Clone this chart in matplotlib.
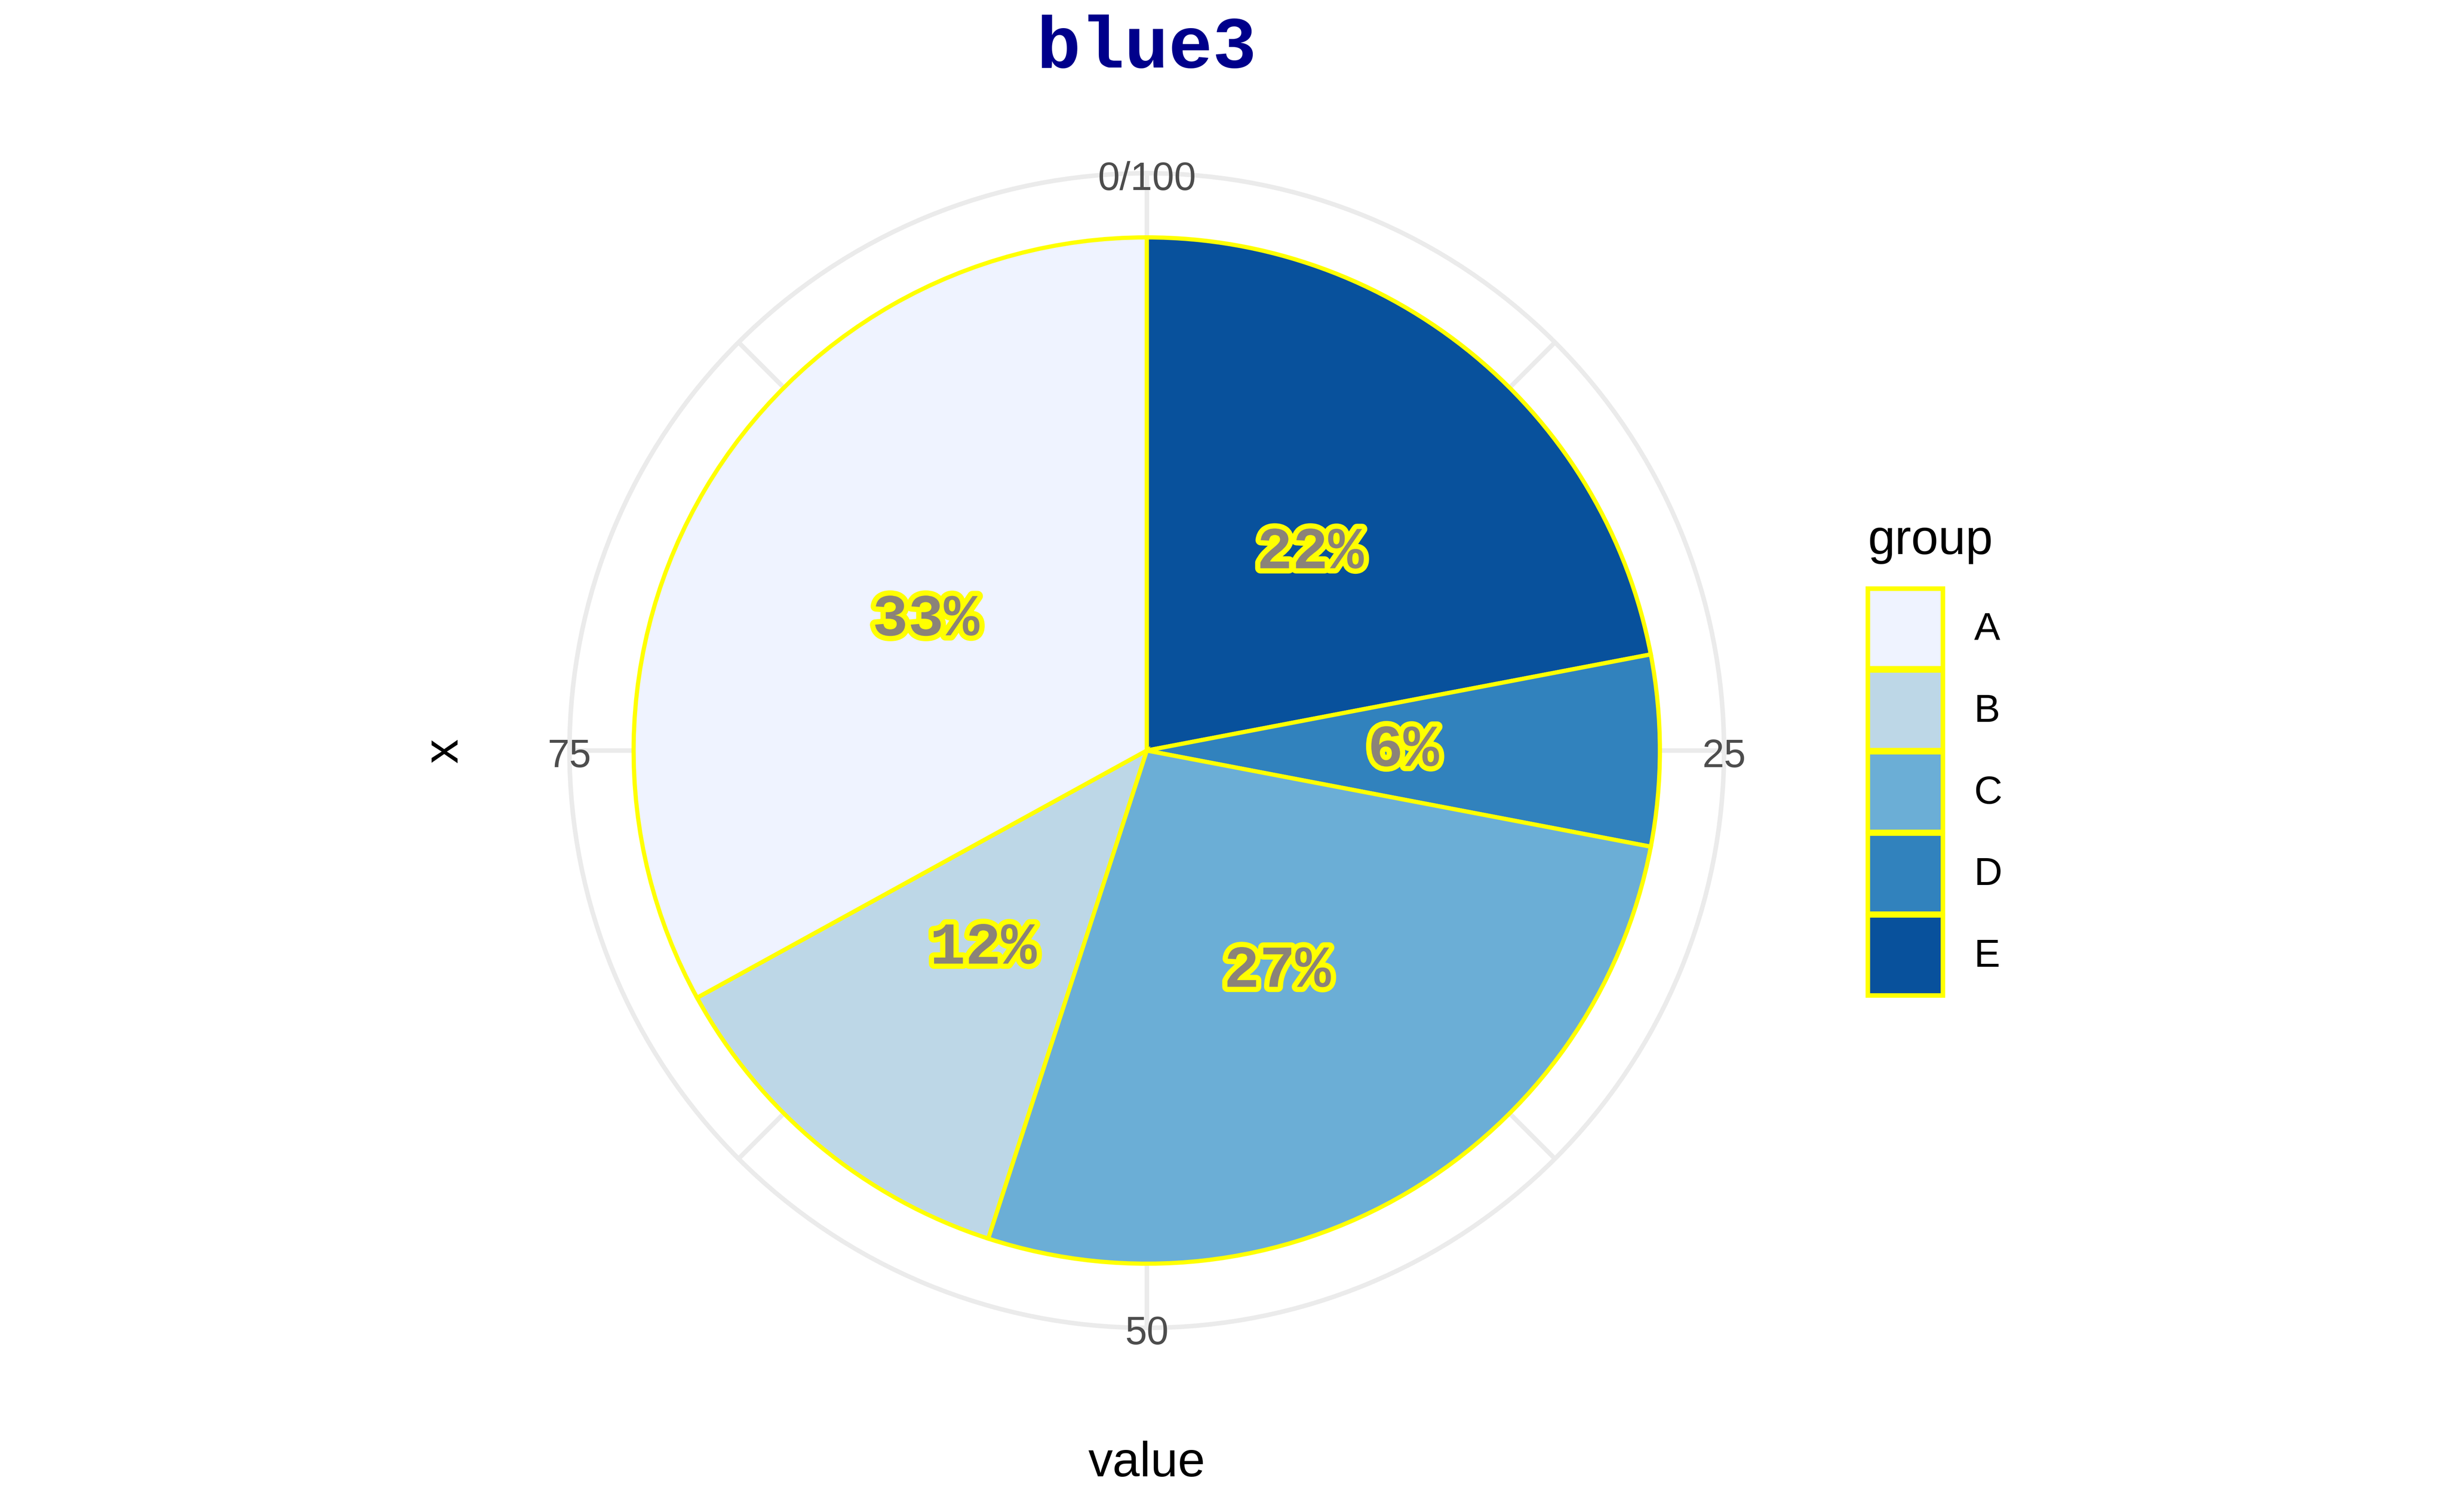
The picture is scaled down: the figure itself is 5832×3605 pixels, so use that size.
import matplotlib.pyplot as plt
import matplotlib.patheffects as pe
import matplotlib.transforms as mtransforms
from matplotlib.patches import Patch
import numpy as np

# data
groups = ['A', 'B', 'C', 'D', 'E']
values = [33, 12, 27, 6, 22]
colors = ['#EFF3FF', '#BDD7E7', '#6BAED6', '#3182BD', '#08519C']
theta_ticks = [0, 25, 50, 75]
theta_labels = ['0/100', '25', '50', '75']

W, H = 1568, 969  # layout measured on the shrunk reference
fig = plt.figure(figsize=(5833 / 300, 3605 / 300), dpi=300)
fig.patch.set_facecolor('white')

cx, cy, r_out = 735, 481, 370
ax = fig.add_axes([(cx - r_out) / W, (H - cy - r_out) / H, 2 * r_out / W, 2 * r_out / H],
                  projection='polar')
ax.set_theta_zero_location('N')
ax.set_theta_direction(-1)
rmax = 1.125
ax.set_ylim(0, rmax)

# ggplot stacks the last group first (clockwise from the top)
vals = np.array(values[::-1], dtype=float)
cols = colors[::-1]
total = vals.sum()
ends = np.cumsum(vals)
starts = ends - vals
to_rad = lambda v: v / total * 2 * np.pi
ax.bar(to_rad((starts + ends) / 2), 1.0, width=to_rad(vals), bottom=0,
       color=cols, edgecolor='#FFFF00', linewidth=2.4, align='center', zorder=3)

# percent labels
for s, e, v in zip(starts, ends, vals):
    ax.text(to_rad((s + e) / 2), 0.5, f'{v / total * 100:.0f}%',
            ha='center', va='center', fontsize=34, fontweight='bold',
            family='Liberation Mono', color='#8B8378', zorder=5,
            path_effects=[pe.withStroke(linewidth=6, foreground='#FFFF00')])

# grid
ax.set_axisbelow(True)
ax.set_xticks(to_rad(np.array(theta_ticks, dtype=float)))
ax.set_xticks(to_rad(np.array(theta_ticks, dtype=float) + 12.5), minor=True)
ax.set_xticklabels([])
ax.grid(which='both', axis='x', color='#EBEBEB', linewidth=2.6)
ax.set_yticks([])
ax.tick_params(axis='x', which='both', length=0)
ax.spines['polar'].set_color('#EBEBEB')
ax.spines['polar'].set_linewidth(2.6)
ax.patch.set_alpha(0)
shift = mtransforms.ScaledTranslation(0, -0.05, fig.dpi_scale_trans)
for t, lab in zip(theta_ticks, theta_labels):
    ax.text(to_rad(t), rmax, lab, ha='center', va='center', fontsize=22.5,
            color='#4D4D4D', family='Liberation Sans', zorder=6,
            transform=ax.transData + shift)

# titles
fig.text(cx / W, 1 - 31 / H, 'blue3', ha='center', va='center', fontsize=42,
         fontweight='bold', family='Liberation Mono', color='#00008B')
fig.text(cx / W, 1 - 938 / H, 'value', ha='center', va='center', fontsize=28,
         family='Liberation Sans')
fig.text(285 / W, 1 - cy / H, 'x', ha='center', va='center', fontsize=28,
         rotation=90, family='Liberation Sans')

# legend
fig.text(1197 / W, 1 - 355 / H, 'group', ha='left', va='baseline', fontsize=28,
         family='Liberation Sans')
handles = [Patch(facecolor=c, edgecolor='#FFFF00', linewidth=2.6) for c in colors]
leg = fig.legend(handles, groups, loc='upper left',
                 bbox_to_anchor=(1197 / W, 1 - 377 / H), frameon=False,
                 handlelength=1.92, handleheight=2.76, labelspacing=0.05,
                 handletextpad=0.8, borderpad=0, borderaxespad=0,
                 prop={'family': 'Liberation Sans', 'size': 22.4})

fig.savefig('out.png', dpi=300)
